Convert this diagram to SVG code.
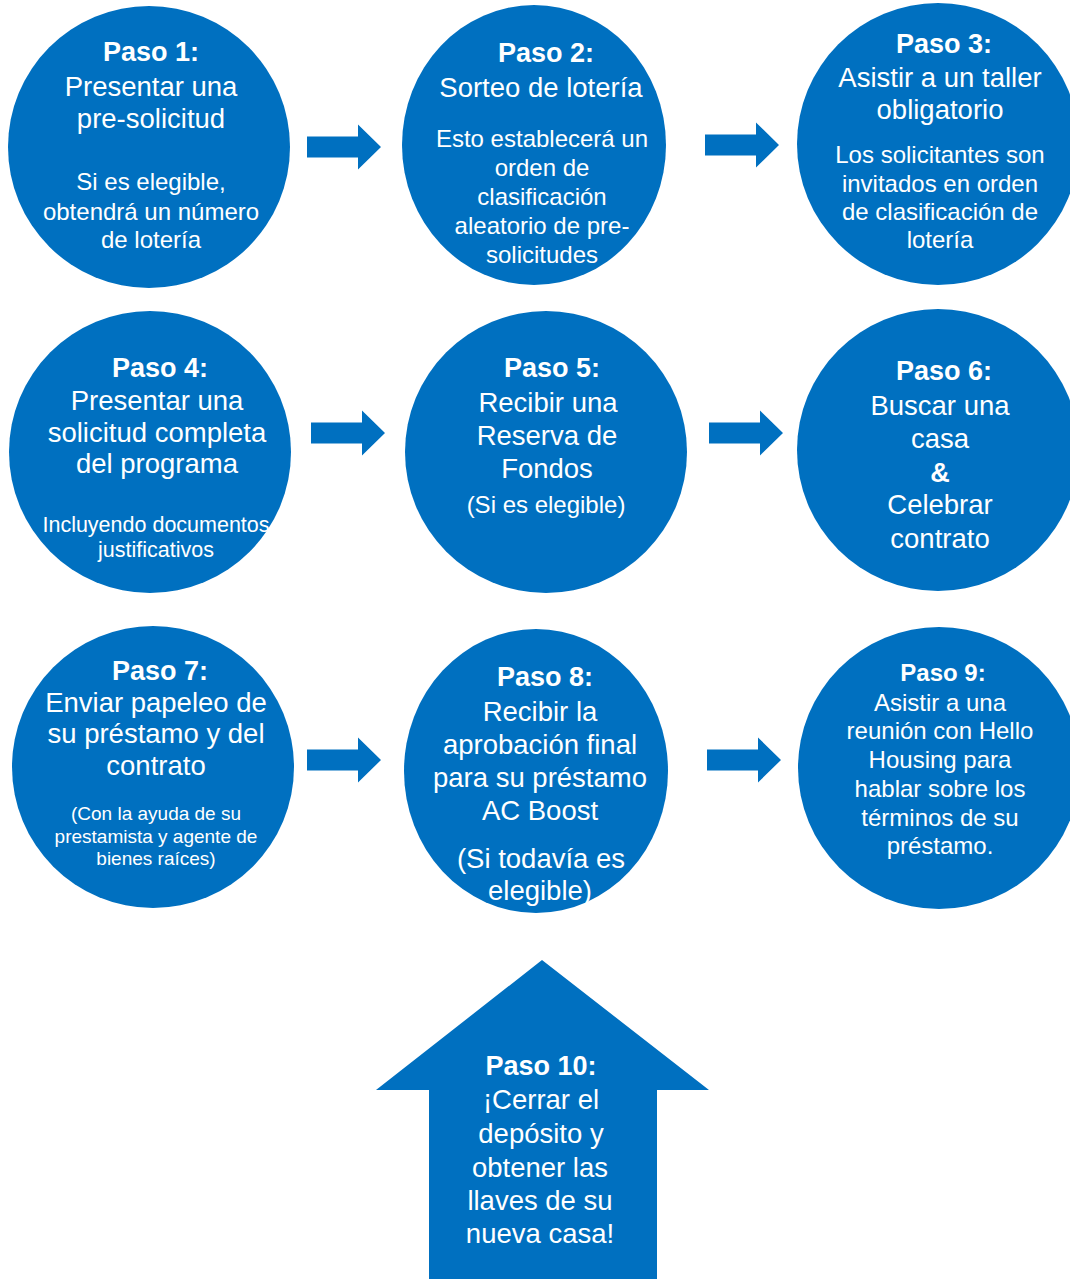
<svg xmlns="http://www.w3.org/2000/svg" width="1070" height="1279" viewBox="0 0 1070 1279">
<defs>
<style>
.n{fill:#0070C0}
text{font-family:"Liberation Sans",Arial,Helvetica,sans-serif;fill:#fff;text-anchor:middle}
.h{font-weight:bold;font-size:27px}
.t{font-size:27.5px}
.s{font-size:24px}
.s2{font-size:21.5px}
.s3{font-size:19px}
.c9{font-size:24px}
</style>
<path id="arr" d="M0,-10.5 H51 V-22.5 L74,0 L51,22.5 V10.5 H0 Z"/>
</defs>
<rect width="1070" height="1279" fill="#fff"/>
<g id="connectors" class="n">
<use href="#arr" x="307" y="147"/>
<use href="#arr" x="705" y="145"/>
<use href="#arr" x="311" y="433"/>
<use href="#arr" x="709" y="433"/>
<use href="#arr" x="307" y="760"/>
<use href="#arr" x="707" y="760"/>
</g>
<g id="step1">
<circle class="n" cx="149" cy="147" r="141"/>
<text class="h" x="151" y="61">Paso 1:</text>
<text class="t" x="151" y="96">Presentar una</text>
<text class="t" x="151" y="128">pre-solicitud</text>
<text class="s" x="151" y="190">Si es elegible,</text>
<text class="s" x="151" y="220">obtendrá un número</text>
<text class="s" x="151" y="248">de lotería</text>
</g>
<g id="step2">
<ellipse class="n" cx="534" cy="145" rx="132" ry="140"/>
<text class="h" x="546" y="62">Paso 2:</text>
<text class="t" x="541" y="97">Sorteo de lotería</text>
<text class="s" x="542" y="147">Esto establecerá un</text>
<text class="s" x="542" y="176">orden de</text>
<text class="s" x="542" y="205">clasificación</text>
<text class="s" x="542" y="234">aleatorio de pre-</text>
<text class="s" x="542" y="263">solicitudes</text>
</g>
<g id="step3">
<circle class="n" cx="938" cy="144" r="141"/>
<text class="h" x="944" y="53">Paso 3:</text>
<text class="t" x="940" y="87">Asistir a un taller</text>
<text class="t" x="940" y="119">obligatorio</text>
<text class="s" x="940" y="163">Los solicitantes son</text>
<text class="s" x="940" y="192">invitados en orden</text>
<text class="s" x="940" y="220">de clasificación de</text>
<text class="s" x="940" y="248">lotería</text>
</g>
<g id="step4">
<circle class="n" cx="150" cy="452" r="141"/>
<text class="h" x="160" y="377">Paso 4:</text>
<text class="t" x="157" y="410">Presentar una</text>
<text class="t" x="157" y="442">solicitud completa</text>
<text class="t" x="157" y="473">del programa</text>
<text class="s2" x="156" y="532">Incluyendo documentos</text>
<text class="s2" x="156" y="557">justificativos</text>
</g>
<g id="step5">
<circle class="n" cx="546" cy="452" r="141"/>
<text class="h" x="552" y="377">Paso 5:</text>
<text class="t" x="548" y="412">Recibir una</text>
<text class="t" x="547" y="445">Reserva de</text>
<text class="t" x="547" y="478">Fondos</text>
<text class="s" x="546" y="513">(Si es elegible)</text>
</g>
<g id="step6">
<circle class="n" cx="938" cy="450" r="141"/>
<text class="h" x="944" y="380">Paso 6:</text>
<text class="t" x="940" y="415">Buscar una</text>
<text class="t" x="940" y="448">casa</text>
<text class="h" x="940" y="482">&amp;</text>
<text class="t" x="940" y="514">Celebrar</text>
<text class="t" x="940" y="548">contrato</text>
</g>
<g id="step7">
<circle class="n" cx="153" cy="767" r="141"/>
<text class="h" x="160" y="680">Paso 7:</text>
<text class="t" x="156" y="712">Enviar papeleo de</text>
<text class="t" x="156" y="743">su préstamo y del</text>
<text class="t" x="156" y="775">contrato</text>
<text class="s3" x="156" y="820">(Con la ayuda de su</text>
<text class="s3" x="156" y="843">prestamista y agente de</text>
<text class="s3" x="156" y="865">bienes raíces)</text>
</g>
<g id="step8">
<ellipse class="n" cx="536" cy="771" rx="132" ry="142"/>
<text class="h" x="545" y="686">Paso 8:</text>
<text class="t" x="540" y="721">Recibir la</text>
<text class="t" x="540" y="754">aprobación final</text>
<text class="t" x="540" y="787">para su préstamo</text>
<text class="t" x="540" y="820">AC Boost</text>
<text class="t" x="541" y="868">(Si todavía es</text>
<text class="t" x="540" y="900">elegible)</text>
</g>
<g id="step9">
<circle class="n" cx="939" cy="768" r="141"/>
<text class="c9" x="943" y="681" font-weight="bold">Paso 9:</text>
<text class="c9" x="940" y="711">Asistir a una</text>
<text class="c9" x="940" y="739">reunión con Hello</text>
<text class="c9" x="940" y="768">Housing para</text>
<text class="c9" x="940" y="797">hablar sobre los</text>
<text class="c9" x="940" y="826">términos de su</text>
<text class="c9" x="940" y="854">préstamo.</text>
</g>
<g id="step10">
<path class="n" d="M542,960 L709,1090 H657 V1279 H429 V1090 H376 Z"/>
<text class="h" x="541" y="1075">Paso 10:</text>
<text class="t" x="541" y="1109">¡Cerrar el</text>
<text class="t" x="541" y="1143">depósito y</text>
<text class="t" x="540" y="1177">obtener las</text>
<text class="t" x="540" y="1210">llaves de su</text>
<text class="t" x="540" y="1243">nueva casa!</text>
</g>
</svg>
